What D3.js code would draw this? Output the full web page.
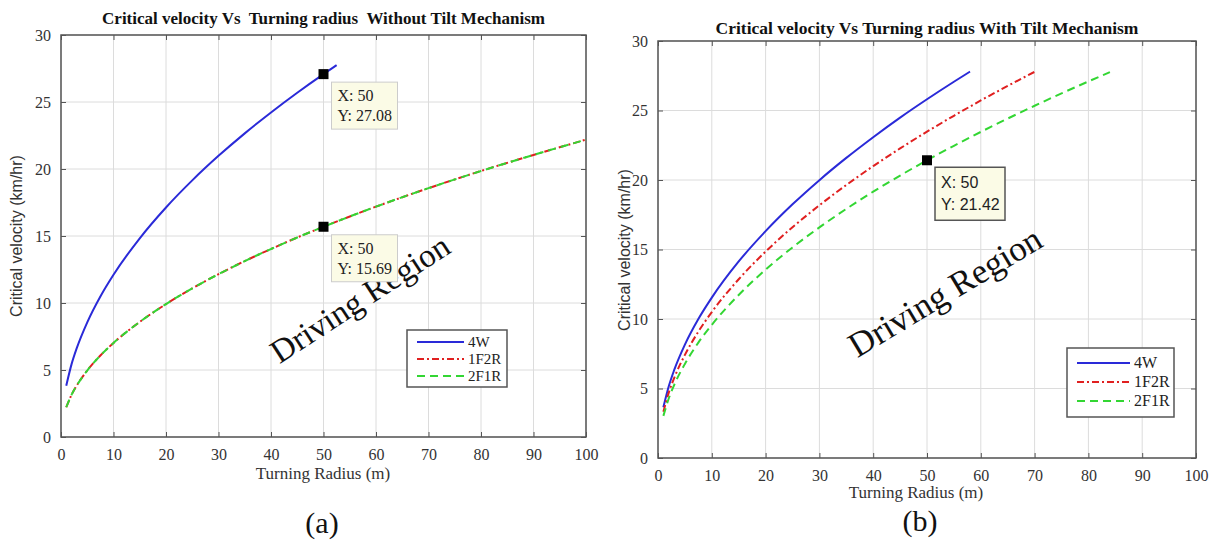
<!DOCTYPE html>
<html><head><meta charset="utf-8">
<script src="https://cdn.jsdelivr.net/npm/d3@7"></script>
<style>body{margin:0;background:#fff}svg{display:block}text{white-space:pre}</style>
</head><body>
<svg id="c" width="1222" height="544"></svg>
<script>
// ---- data ----
const xTickValues = [0,10,20,30,40,50,60,70,80,90,100];
const yTickValues = [0,5,10,15,20,25,30];
const seriesNames = ["4W","1F2R","2F1R"];

// Panel (a): without tilt
const aR_4W = [1,2,3,5,7.5,10,15,20,25,30,35,40,45,50,52.5];
const aV_4W = [3.83,5.42,6.63,8.56,10.49,12.11,14.83,17.13,19.15,20.98,22.66,24.22,25.69,27.08,27.75];
const aR_1F2R = [1,2,3,5,7.5,10,15,20,25,30,35,40,45,50,60,70,80,90,100];
const aV_1F2R = [2.22,3.14,3.84,4.96,6.08,7.02,8.59,9.92,11.09,12.15,13.13,14.03,14.89,15.69,17.19,18.57,19.85,21.05,22.19];
const aR_2F1R = [1,2,3,5,7.5,10,15,20,25,30,35,40,45,50,60,70,80,90,100];
const aV_2F1R = [2.22,3.14,3.84,4.96,6.08,7.02,8.59,9.92,11.09,12.15,13.13,14.03,14.89,15.69,17.19,18.57,19.85,21.05,22.19];
const aTips = [{x:50,y:27.08},{x:50,y:15.69}];

// Panel (b): with tilt
const bR_4W = [1,2,3,5,7.5,10,15,20,25,30,35,40,45,50,55,58];
const bV_4W = [3.65,5.16,6.32,8.16,10.0,11.54,14.14,16.32,18.25,19.99,21.59,23.08,24.49,25.81,27.07,27.8];
const bR_1F2R = [1,2,3,5,7.5,10,15,20,25,30,35,40,45,50,55,60,65,70];
const bV_1F2R = [3.32,4.70,5.75,7.42,9.09,10.5,12.86,14.85,16.6,18.18,19.64,21.0,22.27,23.48,24.62,25.72,26.77,27.78];
const bR_2F1R = [1,2,3,5,7.5,10,15,20,25,30,35,40,45,50,55,60,65,70,75,80,84];
const bV_2F1R = [3.03,4.28,5.25,6.77,8.30,9.58,11.73,13.55,15.15,16.59,17.92,19.16,20.32,21.42,22.46,23.46,24.42,25.34,26.23,27.09,27.76];
const bTips = [{x:50,y:21.42}];

const titles = ["Critical velocity Vs  Turning radius  Without Tilt Mechanism",
                "Critical velocity Vs Turning radius With Tilt Mechanism"];
const xLabel = "Turning Radius (m)";
const yLabel = "Critical velocity (km/hr)";
const panelLabels = ["(a)","(b)"];
const regionText = "Driving Region";

// ---- drawing ----
const svg = d3.select("#c");
const SERIF = "'Liberation Serif','Times New Roman',serif";
const SANS = "'Liberation Sans',Arial,sans-serif";
const styles = {
  "4W":   {color:"#2a2ad8", dash:null},
  "1F2R": {color:"#e02020", dash:"7,3,2,3"},
  "2F1R": {color:"#33d633", dash:"8,5"}
};

function drawPanel(cfg){
  const g = svg.append("g");
  const x = d3.scaleLinear().domain([0,100]).range([cfg.x0,cfg.x1]);
  const y = d3.scaleLinear().domain([0,30]).range([cfg.y1,cfg.y0]);
  // grid
  g.selectAll(".gx").data(xTickValues).enter().append("line")
    .attr("x1",d=>x(d)).attr("x2",d=>x(d)).attr("y1",cfg.y0).attr("y2",cfg.y1)
    .attr("stroke","#dcdcdc").attr("stroke-width",1);
  g.selectAll(".gy").data(yTickValues).enter().append("line")
    .attr("y1",d=>y(d)).attr("y2",d=>y(d)).attr("x1",cfg.x0).attr("x2",cfg.x1)
    .attr("stroke","#dcdcdc").attr("stroke-width",1);
  // axes with inward ticks
  const ax = g.append("g").attr("transform",`translate(0,${cfg.y1})`)
    .call(d3.axisBottom(x).tickValues(xTickValues).tickSizeInner(-5).tickSizeOuter(0).tickPadding(cfg.xPad));
  const axT = g.append("g").attr("transform",`translate(0,${cfg.y0})`)
    .call(d3.axisTop(x).tickValues(xTickValues).tickSizeInner(-5).tickSizeOuter(0).tickFormat(""));
  const ay = g.append("g").attr("transform",`translate(${cfg.x0},0)`)
    .call(d3.axisLeft(y).tickValues(yTickValues).tickSizeInner(-5).tickSizeOuter(0).tickPadding(10));
  const ayR = g.append("g").attr("transform",`translate(${cfg.x1},0)`)
    .call(d3.axisRight(y).tickValues(yTickValues).tickSizeInner(-5).tickSizeOuter(0).tickFormat(""));
  [ax,axT,ay,ayR].forEach(a=>{
    a.select(".domain").remove();
    a.selectAll("line").attr("stroke","#555");
    a.selectAll("text").attr("font-family",SERIF).attr("font-size",16).attr("fill","#333");
  });
  g.append("rect").attr("x",cfg.x0).attr("y",cfg.y0).attr("width",cfg.x1-cfg.x0).attr("height",cfg.y1-cfg.y0)
    .attr("fill","none").attr("stroke","#555").attr("stroke-width",1.5);
  // series
  const line = d3.line().x(d=>x(d[0])).y(d=>y(d[1])).curve(d3.curveMonotoneX);
  cfg.order.forEach(name=>{
    const s = cfg.series[name];
    const pts = s.r.map((r,i)=>[r,s.v[i]]);
    g.append("path").datum(pts).attr("d",line).attr("fill","none")
      .attr("stroke",styles[name].color).attr("stroke-width",2)
      .attr("stroke-dasharray",styles[name].dash);
  });
  // driving region
  g.append("text").attr("transform",`translate(${cfg.drx},${cfg.dry}) rotate(${cfg.drRot})`)
    .attr("text-anchor","middle").attr("font-family",SERIF).attr("font-size",cfg.drFS)
    .attr("fill","#111").text(regionText);
  // datatips
  cfg.tips.forEach(t=>{
    const px = x(t.x), py = y(t.y);
    const bx = px+cfg.tipDx, by = py+cfg.tipDy;
    g.append("rect").attr("x",bx).attr("y",by).attr("width",cfg.tipW).attr("height",cfg.tipH)
      .attr("fill","#fbfbe6").attr("stroke",cfg.tipStroke).attr("stroke-width",cfg.tipSW);
    g.append("text").attr("x",bx+6).attr("y",by+cfg.tipL1).attr("font-family",cfg.tipFont).attr("font-size",cfg.tipFS)
      .attr("fill","#222").text("X: "+t.x);
    g.append("text").attr("x",bx+6).attr("y",by+cfg.tipL2).attr("font-family",cfg.tipFont).attr("font-size",cfg.tipFS)
      .attr("fill","#222").text("Y: "+t.y.toFixed(2));
    g.append("rect").attr("x",px-5).attr("y",py-5).attr("width",10).attr("height",10).attr("fill","#000");
  });
  // legend
  const L = cfg.legend;
  g.append("rect").attr("x",L.x).attr("y",L.y).attr("width",L.w).attr("height",L.h)
    .attr("fill","#fff").attr("stroke","#555").attr("stroke-width",1.5);
  seriesNames.forEach((name,i)=>{
    const ly = L.y + L.first + i*L.step;
    g.append("line").attr("x1",L.x+10).attr("x2",L.x+10+L.len).attr("y1",ly).attr("y2",ly)
      .attr("stroke",styles[name].color).attr("stroke-width",2).attr("stroke-dasharray",styles[name].dash);
    g.append("text").attr("x",L.x+14+L.len).attr("y",ly+5).attr("font-family",SERIF).attr("font-size",L.fs)
      .attr("fill","#222").text(name);
  });
  // titles and labels
  const cx = (cfg.x0+cfg.x1)/2;
  g.append("text").attr("x",cx).attr("y",cfg.titleY).attr("text-anchor","middle")
    .attr("font-family",SERIF).attr("font-weight","bold").attr("font-size",cfg.titleFS).attr("fill","#111").text(cfg.title);
  g.append("text").attr("x",cfg.xlabX).attr("y",cfg.xlabY).attr("text-anchor","middle")
    .attr("font-family",SERIF).attr("font-size",17).attr("fill","#333").text(xLabel);
  g.append("text").attr("transform",`translate(${cfg.ylabX},${cfg.ylabCY}) rotate(-90)`).attr("text-anchor","middle")
    .attr("font-family",SANS).attr("font-size",16).attr("fill","#333").text(yLabel);
  g.append("text").attr("x",cfg.plX).attr("y",cfg.plY).attr("text-anchor","middle")
    .attr("font-family",SERIF).attr("font-size",30).attr("fill","#111").text(cfg.panelLabel);
}

drawPanel({
  x0:61,x1:586,y0:35,y1:437,xPad:12,
  series:{"4W":{r:aR_4W,v:aV_4W},"1F2R":{r:aR_1F2R,v:aV_1F2R},"2F1R":{r:aR_2F1R,v:aV_2F1R}},
  order:["4W","1F2R","2F1R"],
  tips:aTips, tipDx:8, tipDy:8, tipW:66, tipH:47, tipFont:SERIF, tipFS:16, tipStroke:"#ccc", tipSW:1, tipL1:19, tipL2:39,
  legend:{x:407,y:330,w:100,h:57,first:12,step:17,len:47,fs:15},
  drx:366, dry:308, drRot:-33, drFS:33,
  title:titles[0], titleFS:17, titleY:24, xlabX:323, xlabY:479, ylabX:22, ylabCY:236,
  panelLabel:panelLabels[0], plX:322, plY:533
});
drawPanel({
  x0:658,x1:1196,y0:41,y1:458,xPad:12,
  series:{"4W":{r:bR_4W,v:bV_4W},"1F2R":{r:bR_1F2R,v:bV_1F2R},"2F1R":{r:bR_2F1R,v:bV_2F1R}},
  order:["4W","1F2R","2F1R"],
  tips:bTips, tipDx:8, tipDy:7, tipW:70, tipH:53, tipFont:SANS, tipFS:16, tipStroke:"#555", tipSW:1.5, tipL1:21, tipL2:43,
  legend:{x:1067,y:348,w:107,h:69,first:15,step:19,len:53,fs:16},
  drx:951, dry:302, drRot:-31, drFS:35,
  title:titles[1], titleFS:17.5, titleY:34, xlabX:916, xlabY:498, ylabX:630, ylabCY:250,
  panelLabel:panelLabels[1], plX:920, plY:531
});
</script>
</body></html>
